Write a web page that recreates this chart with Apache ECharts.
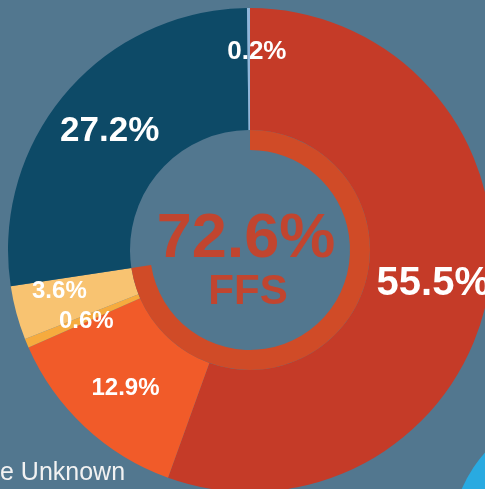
<!DOCTYPE html>
<html>
<head>
<meta charset="utf-8">
<script src="https://cdn.jsdelivr.net/npm/echarts@6/dist/echarts.min.js"></script>
<style>
  html, body { margin: 0; padding: 0; background: #52778f; }
  #chart { width: 485px; height: 489px; }
</style>
</head>
<body>
<div id="chart"></div>
<script>
var categories = ['FFS a', 'FFS b', 'Other a', 'Other b', 'Other c', 'Other d'];
var shares = [55.5, 12.9, 0.6, 3.6, 27.2, 0.2];
var sliceColors = ['#c53b28', '#f15b29', '#f6ab3e', '#f8c371', '#0d4a67', '#8fb6da'];
var labelSizes = [40, 24, 24, 24, 35, 26];
var labelOffsets = [[2, 2], [1, 4], [6, 0], [-13, -7], [0, 0], [8, -14]];
var ffsShare = 72.6;
var centerLabel = '72.6%';
var centerSub = 'FFS';
var cutLegend = 'e Unknown';

var font = 'Liberation Sans, Arial, Helvetica, sans-serif';
var mychart = echarts.init(document.getElementById('chart'));

var pieData = [];
for (var i = 0; i < shares.length; i++) {
    pieData.push({
        name: categories[i],
        value: shares[i],
        itemStyle: { color: sliceColors[i] },
        label: { fontSize: labelSizes[i], offset: labelOffsets[i] }
    });
}

option = {
    backgroundColor: '#52778f',
    animation: false,
    graphic: [
        {
            type: 'circle',
            shape: { cx: 590, cy: 545, r: 140 },
            style: { fill: '#29aae1' },
            silent: true
        },
        {
            type: 'text',
            left: 0,
            top: 461,
            style: {
                text: cutLegend,
                fill: '#f2f2f2',
                font: '25px ' + font
            },
            silent: true
        },
        {
            type: 'text',
            x: 246,
            y: 240,
            style: {
                text: centerLabel,
                fill: '#c1452f',
                font: 'bold 63px ' + font,
                align: 'center',
                verticalAlign: 'middle'
            },
            z: 10
        },
        {
            type: 'text',
            x: 248,
            y: 292,
            style: {
                text: centerSub,
                fill: '#c1452f',
                font: 'bold 42px ' + font,
                align: 'center',
                verticalAlign: 'middle'
            },
            z: 10
        }
    ],
    series: [
        {
            name: 'share',
            type: 'pie',
            center: [250, 250],
            radius: [120, 242],
            startAngle: 90,
            clockwise: true,
            avoidLabelOverlap: false,
            silent: true,
            label: {
                show: true,
                position: 'inside',
                formatter: function (p) { return p.value.toFixed(1) + '%'; },
                color: '#ffffff',
                fontWeight: 'bold',
                fontFamily: font
            },
            labelLine: { show: false },
            data: pieData
        },
        {
            name: 'ffs ring',
            type: 'pie',
            center: [250, 250],
            radius: [100, 120],
            startAngle: 90,
            clockwise: true,
            silent: true,
            label: { show: false },
            labelLine: { show: false },
            data: [
                { value: ffsShare, itemStyle: { color: '#d04b27' } },
                { value: 100 - ffsShare, itemStyle: { color: 'rgba(0,0,0,0)' } }
            ]
        }
    ]
};
mychart.setOption(option);
</script>
</body>
</html>
